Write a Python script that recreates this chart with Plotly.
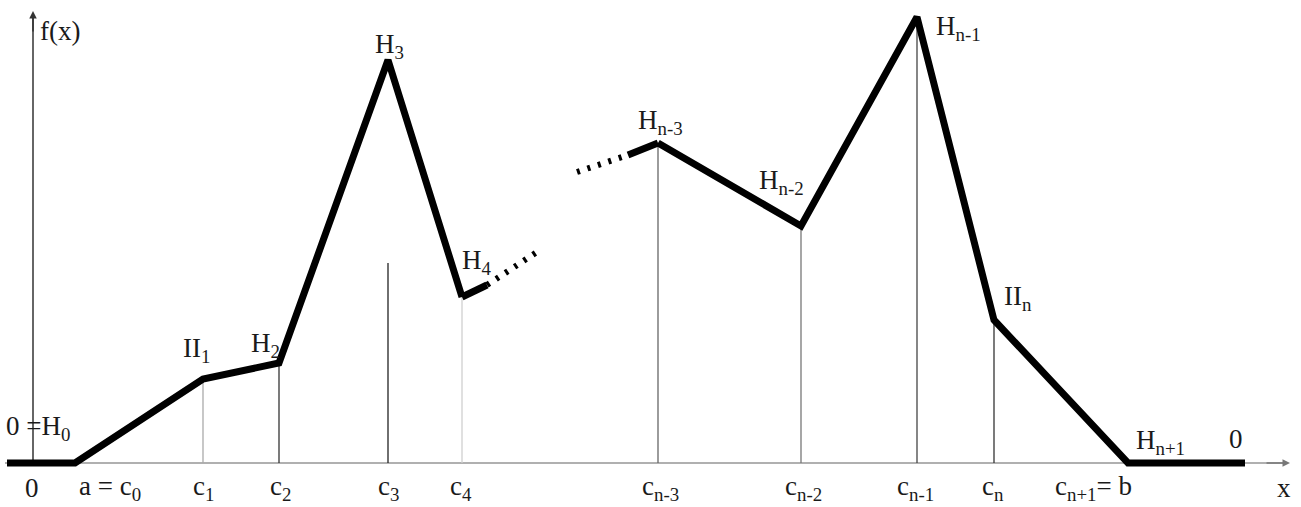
import plotly.graph_objects as go

# ---- data (x positions in drawing units, heights above axis) ----
left_x = [7, 75, 203, 279, 388, 462]
left_y = [0, 0, 84, 100, 403, 166]
right_x = [658, 801, 917, 994, 1128, 1245]
right_y = [320, 237, 446, 143, 0, 0]

# short solid stubs and dotted continuations at the break
stub_left_x = [462, 487]
stub_left_y = [166, 178]
dots_left_x = [487, 540]
dots_left_y = [178, 213]
dots_right_x = [577, 628]
dots_right_y = [291, 308]
stub_right_x = [628, 658]
stub_right_y = [308, 320]

# vertical ordinates: x, top height, colour
vert_x = [203, 279, 388, 462, 658, 801, 917, 994]
vert_top = [84, 100, 200, 166, 320, 237, 446, 143]
vert_col = ["#aaaaaa", "#333333", "#222222", "#d0d0d0", "#666666", "#777777", "#444444", "#333333"]

tick_x = [32, 110, 203, 280, 388, 461, 660, 803, 915, 993, 1093, 1284]
tick_text = ["0", "a = c<sub>0</sub>", "c<sub>1</sub>", "c<sub>2</sub>", "c<sub>3</sub>", "c<sub>4</sub>",
             "c<sub>n-3</sub>", "c<sub>n-2</sub>", "c<sub>n-1</sub>", "c<sub>n</sub>",
             "c<sub>n+1</sub>= b", "x"]

pt_label_x = [38, 196, 265, 389, 477, 660, 781, 958, 1018, 1160, 1236, 60]
pt_label_y = [35, 113, 118, 417, 201, 341, 281, 435, 165, 21, 24, 432]
pt_label_text = ["0 =H<sub>0</sub>", "II<sub>1</sub>", "H<sub>2</sub>", "H<sub>3</sub>", "H<sub>4</sub>",
                 "H<sub>n-3</sub>", "H<sub>n-2</sub>", "H<sub>n-1</sub>", "II<sub>n</sub>",
                 "H<sub>n+1</sub>", "0", "f(x)"]

FONT = "Liberation Serif"
fig = go.Figure()

# axes
fig.add_trace(go.Scatter(x=[5, 1288], y=[0, 0], mode="lines",
                         line=dict(color="#b0b0b0", width=2), hoverinfo="skip"))
fig.add_trace(go.Scatter(x=[33, 33], y=[0, 450], mode="lines",
                         line=dict(color="#333333", width=1.5), hoverinfo="skip"))

# vertical ordinates
for vx, vt, vc in zip(vert_x, vert_top, vert_col):
    fig.add_trace(go.Scatter(x=[vx, vx], y=[0, vt], mode="lines",
                             line=dict(color=vc, width=1.3), hoverinfo="skip"))

# main polyline
for xs, ys in [(left_x, left_y), (right_x, right_y), (stub_left_x, stub_left_y), (stub_right_x, stub_right_y)]:
    fig.add_trace(go.Scatter(x=xs, y=ys, mode="lines",
                             line=dict(color="black", width=7), hoverinfo="skip"))
for xs, ys in [(dots_left_x, dots_left_y), (dots_right_x, dots_right_y)]:
    fig.add_trace(go.Scatter(x=xs, y=ys, mode="lines",
                             line=dict(color="black", width=6, dash="3px,8px"), hoverinfo="skip"))

# arrows
fig.add_annotation(x=1290, y=0, ax=1265, ay=0, xref="x", yref="y", axref="x", ayref="y",
                   text="", showarrow=True, arrowhead=2, arrowsize=1, arrowwidth=1.5, arrowcolor="#777777")
fig.add_annotation(x=33, y=452, ax=33, ay=430, xref="x", yref="y", axref="x", ayref="y",
                   text="", showarrow=True, arrowhead=2, arrowsize=1, arrowwidth=1.5, arrowcolor="#333333")

# tick labels under the axis
for tx, tt in zip(tick_x, tick_text):
    fig.add_annotation(x=tx, y=-25, text=tt, showarrow=False, xanchor="center", yanchor="middle",
                       font=dict(family=FONT, size=27, color="#1a1a1a"))

# point labels
for lx, ly, lt in zip(pt_label_x, pt_label_y, pt_label_text):
    fig.add_annotation(x=lx, y=ly, text=lt, showarrow=False, xanchor="center", yanchor="middle",
                       font=dict(family=FONT, size=27, color="#1a1a1a"))

fig.update_layout(
    width=1301, height=507,
    margin=dict(l=0, r=0, t=0, b=0),
    paper_bgcolor="white", plot_bgcolor="white",
    showlegend=False,
    xaxis=dict(range=[0, 1301], visible=False, fixedrange=True),
    yaxis=dict(range=[-44, 463], visible=False, fixedrange=True),
)
fig.write_html("out.html", config={"displayModeBar": False},
               post_script="document.body.style.margin='0';document.body.style.overflow='hidden';")
